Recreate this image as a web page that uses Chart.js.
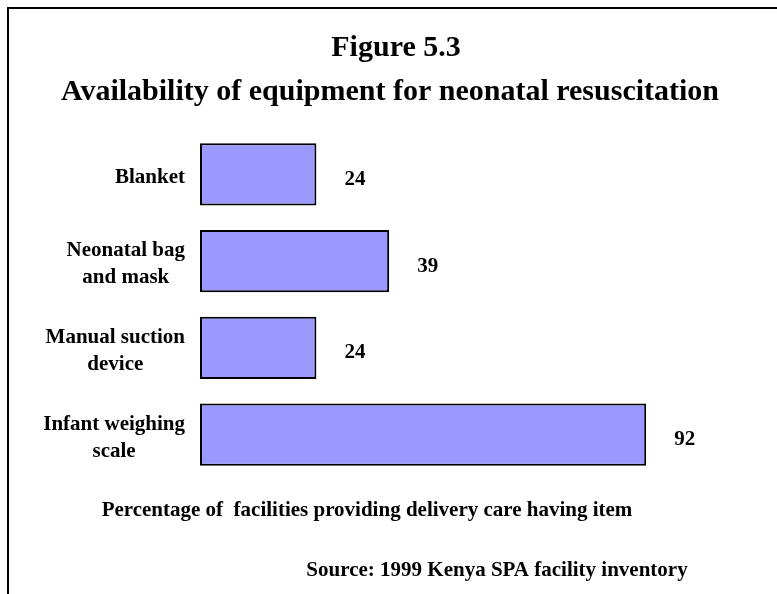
<!DOCTYPE html>
<html>
<head>
<meta charset="utf-8">
<script src="https://cdn.jsdelivr.net/npm/chart.js@4/dist/chart.umd.min.js"></script>
<style>
html,body{margin:0;padding:0;background:#fff;}
#wrap{position:absolute;left:0;top:0;width:777px;height:594px;}
</style>
</head>
<body>
<div id="wrap"><canvas id="c" width="777" height="594"></canvas></div>
<script>
const categories = [["Blanket"], ["Neonatal bag", "and mask"], ["Manual suction", "device"], ["Infant weighing", "scale"]];
const values = [24, 39, 24, 92];
const titleLines = ["Figure 5.3", "Availability of equipment for neonatal resuscitation"];
const axisTitle = "Percentage of  facilities providing delivery care having item";
const sourceNote = "Source: 1999 Kenya SPA facility inventory";

const FONT = "'Liberation Serif', 'Times New Roman', serif";

const decor = {
  id: 'decor',
  beforeDraw(chart) {
    const ctx = chart.ctx;
    ctx.save();
    ctx.fillStyle = '#fff';
    ctx.fillRect(0, 0, chart.width, chart.height);
    ctx.strokeStyle = '#000';
    ctx.lineWidth = 2;
    ctx.beginPath();
    ctx.moveTo(8, 594);
    ctx.lineTo(8, 8);
    ctx.lineTo(777, 8);
    ctx.stroke();
    ctx.restore();
  },
  afterDatasetsDraw(chart) {
    const ctx = chart.ctx;
    ctx.save();
    ctx.fillStyle = '#000';
    ctx.font = "bold 21px " + FONT;
    ctx.textAlign = 'left';
    ctx.textBaseline = 'middle';
    const meta = chart.getDatasetMeta(0);
    meta.data.forEach((bar, i) => {
      ctx.fillText(String(values[i]), bar.x + 28, bar.y + 5);
    });
    // category labels: block right-aligned, lines centred within block
    const yScale = chart.scales.y;
    const rightEdge = chart.chartArea.left - 15;
    const lh = 27;
    categories.forEach((lines, i) => {
      const cy = yScale.getPixelForTick(i) + 3;
      let maxW = 0;
      lines.forEach(l => { maxW = Math.max(maxW, ctx.measureText(l).width); });
      const cx = rightEdge - maxW / 2;
      ctx.textAlign = 'center';
      lines.forEach((l, j) => {
        ctx.fillText(l, cx, cy + (j - (lines.length - 1) / 2) * lh);
      });
    });
    // titles
    ctx.textAlign = 'center';
    ctx.textBaseline = 'middle';
    ctx.font = "bold 30px " + FONT;
    ctx.fillText(titleLines[0], 396, 48);
    ctx.fillText(titleLines[1], 390, 92);
    ctx.font = "bold 21px " + FONT;
    ctx.fillText(axisTitle, 367, 511);
    ctx.fillText(sourceNote, 497, 571);
    ctx.restore();
  }
};

new Chart(document.getElementById('c'), {
  type: 'bar',
  data: {
    labels: categories,
    datasets: [{
      data: values,
      backgroundColor: '#9999FF',
      borderColor: '#000000',
      borderWidth: 2,
      borderSkipped: false,
      barPercentage: 0.72,
      categoryPercentage: 1.0
    }]
  },
  options: {
    indexAxis: 'y',
    responsive: false,
    animation: false,
    devicePixelRatio: 1,
    layout: { padding: { left: 0, right: 92, top: 131, bottom: 116 } },
    plugins: {
      legend: { display: false },
      tooltip: { enabled: false },
      title: { display: false }
    },
    scales: {
      x: { min: 0, max: 100, display: false },
      y: {
        afterFit(scale) { scale.width = 200; },
        grid: { display: false, drawTicks: false },
        border: { display: false },
        ticks: { display: false }
      }
    }
  },
  plugins: [decor]
});
</script>
</body>
</html>
